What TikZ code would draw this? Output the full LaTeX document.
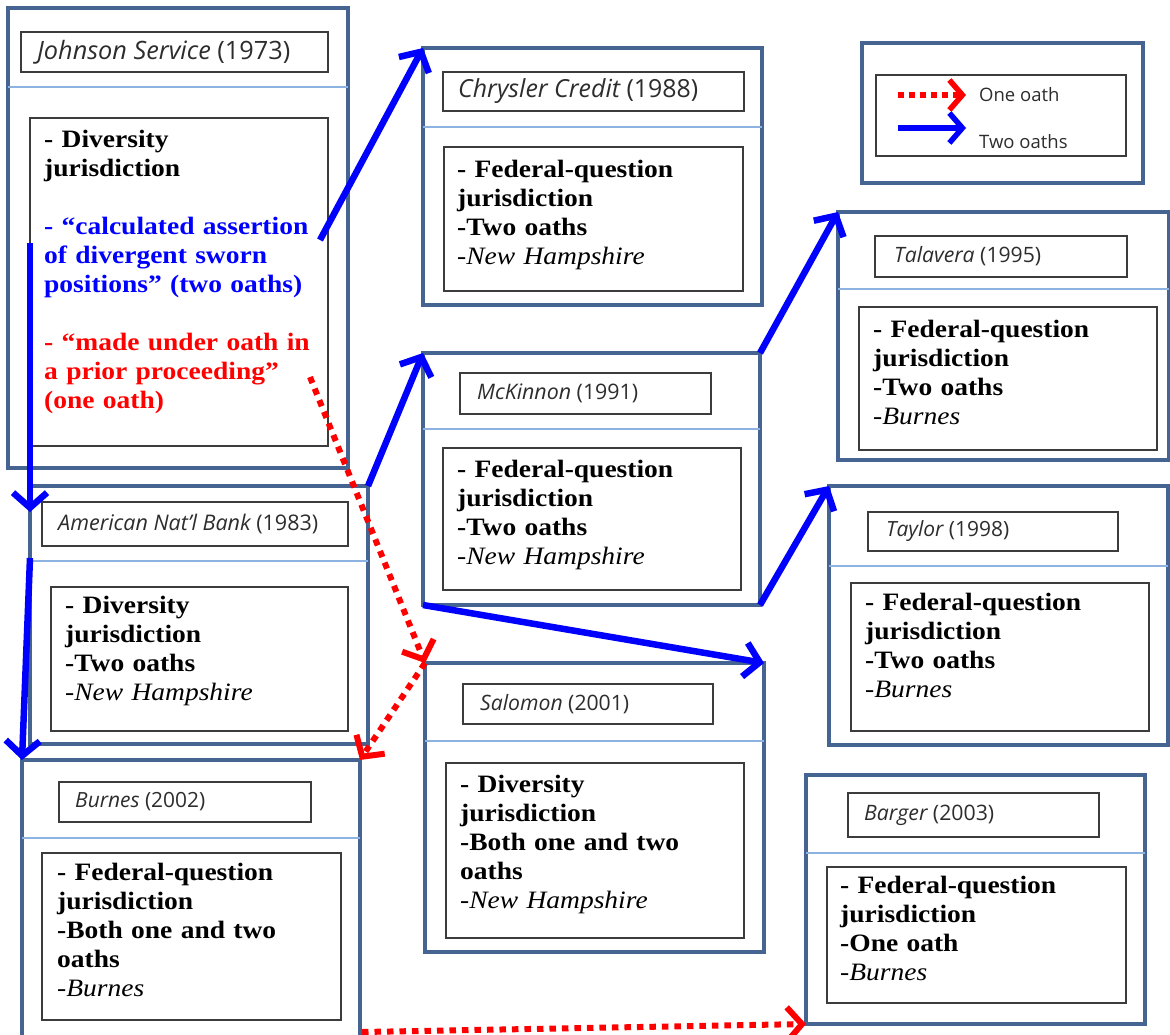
\documentclass[tikz,border=0pt]{standalone}
\usepackage{fontspec}
\usepackage{graphicx}
\usetikzlibrary{arrows.meta}
\newfontfamily\bodyfont{Liberation Serif}[FakeStretch=1.1]
\newfontfamily\titlefont{Open Sans}
\definecolor{frameblue}{RGB}{70,100,145}
\definecolor{seplight}{RGB}{141,179,226}
\definecolor{innergray}{RGB}{60,60,60}
\definecolor{titlegray}{RGB}{45,45,45}
\definecolor{arrowblue}{RGB}{0,0,255}
\definecolor{arrowred}{RGB}{255,0,0}
\newcommand\casetitle[3]{\resizebox{#1pt}{!}{\titlefont\color{titlegray}\itshape #2\upshape{} #3}}
\newcommand\plainit[1]{{\mdseries -\itshape #1}}
\begin{document}
\begin{tikzpicture}[x=1pt,y=-1pt,
  outerbox/.style={draw=frameblue, line width=3.8pt, rectangle, inner sep=0pt, outer sep=0pt, anchor=north west},
  titlebox/.style={draw=innergray, line width=1.5pt, rectangle, inner sep=0pt, outer sep=0pt, anchor=north west},
  contentbox/.style={draw=innergray, line width=1.5pt, rectangle, inner sep=0pt, outer sep=0pt, anchor=north west},
  sepline/.style={draw=seplight, line width=1.4pt},
  titletext/.style={anchor=west, inner sep=0pt},
  bodytext/.style={anchor=base west, inner sep=0pt, text width=300pt, align=left, font=\bodyfont\bfseries\fontsize{25}{29}\selectfont},
  legendtext/.style={anchor=west, inner sep=0pt, font=\titlefont\fontsize{18.5}{21}\selectfont, text=titlegray},
  twooath/.style={draw=arrowblue, line width=6.5pt, -{Straight Barb[length=15pt,width=34pt]}},
  oneoath/.style={draw=arrowred, line width=6pt, dash pattern=on 6.5pt off 6pt, -{Straight Barb[length=15pt,width=34pt]}},
  legendblue/.style={draw=arrowblue, line width=5.5pt, -{Straight Barb[length=13pt,width=30pt]}},
  legendred/.style={draw=arrowred, line width=5.5pt, dash pattern=on 6pt off 5pt, -{Straight Barb[length=13pt,width=30pt]}}
]
\useasboundingbox[fill=white] (0,0) rectangle (1170,1034);

% ---------- Johnson Service ----------
\node[outerbox, minimum width=340pt, minimum height=460pt] (js) at (8,8) {};
\node[titlebox, minimum width=307pt, minimum height=40pt] (jst) at (21,32) {};
\draw[sepline] (8,87) -- (348,87);
\node[contentbox, minimum width=298pt, minimum height=328pt] (jsc) at (30,118) {};
\node[titletext] (jstt) at (37,52) {\casetitle{253}{Johnson Service}{(1973)}};
\node[bodytext] (jsb) at (44,147) {- Diversity\\ jurisdiction\\[29pt]
{\color{arrowblue}- “calculated assertion\\ of divergent sworn\\ positions” (two oaths)}\\[29pt]
{\color{arrowred}- “made under oath in\\ a prior proceeding”\\ (one oath)}};

% ---------- Chrysler Credit ----------
\node[outerbox, minimum width=339pt, minimum height=257pt] (chr) at (423,48) {};
\node[titlebox, minimum width=301pt, minimum height=39pt] (chrt) at (443,72) {};
\draw[sepline] (423,127) -- (762,127);
\node[contentbox, minimum width=299pt, minimum height=144pt] (chrc) at (444,147) {};
\node[titletext] (chrtt) at (458,91.5) {\casetitle{240}{Chrysler Credit}{(1988)}};
\node[bodytext] (chrb) at (457,177) {- Federal-question\\ jurisdiction\\ -Two oaths\\ \plainit{New Hampshire}};

% ---------- Legend ----------
\node[outerbox, minimum width=281pt, minimum height=140pt] (leg) at (862,43) {};
\node[contentbox, minimum width=250pt, minimum height=81pt] (legi) at (876,75) {};
\coordinate (lr1) at (898,95);
\coordinate (lr2) at (966,95);
\coordinate (lb1) at (898,128);
\coordinate (lb2) at (966,128);
\draw[legendred] (lr1) -- (lr2);
\draw[legendblue] (lb1) -- (lb2);
\node[legendtext] (lone) at (979,95) {One oath};
\node[legendtext] (ltwo) at (979,142) {Two oaths};

% ---------- Talavera ----------
\node[outerbox, minimum width=331pt, minimum height=248pt] (tal) at (838,212) {};
\node[titlebox, minimum width=252pt, minimum height=41pt] (talt) at (875,236) {};
\draw[sepline] (838,289) -- (1169,289);
\node[contentbox, minimum width=298pt, minimum height=143pt] (talc) at (859,307) {};
\node[titletext] (taltt) at (894,256.5) {\casetitle{147}{Talavera}{(1995)}};
\node[bodytext] (talb) at (873,337) {- Federal-question\\ jurisdiction\\ -Two oaths\\ \plainit{Burnes}};

% ---------- McKinnon ----------
\node[outerbox, minimum width=337pt, minimum height=252pt] (mck) at (423,353) {};
\node[titlebox, minimum width=251pt, minimum height=41pt] (mckt) at (460,373) {};
\draw[sepline] (423,429) -- (760,429);
\node[contentbox, minimum width=298pt, minimum height=142pt] (mckc) at (443,448) {};
\node[titletext] (mcktt) at (477,393.5) {\casetitle{161}{McKinnon}{(1991)}};
\node[bodytext] (mckb) at (457,477) {- Federal-question\\ jurisdiction\\ -Two oaths\\ \plainit{New Hampshire}};

% ---------- Taylor ----------
\node[outerbox, minimum width=339pt, minimum height=259pt] (tay) at (829,486) {};
\node[titlebox, minimum width=250pt, minimum height=39pt] (tayt) at (868,512) {};
\draw[sepline] (829,566) -- (1168,566);
\node[contentbox, minimum width=298pt, minimum height=148pt] (tayc) at (851,583) {};
\node[titletext] (taytt) at (886,531.5) {\casetitle{123}{Taylor}{(1998)}};
\node[bodytext] (tayb) at (865,610) {- Federal-question\\ jurisdiction\\ -Two oaths\\ \plainit{Burnes}};

% ---------- American Nat'l Bank ----------
\node[outerbox, minimum width=338pt, minimum height=258pt] (anb) at (30,486) {};
\node[titlebox, minimum width=306pt, minimum height=44pt] (anbt) at (42,502) {};
\draw[sepline] (30,561) -- (368,561);
\node[contentbox, minimum width=297pt, minimum height=144pt] (anbc) at (51,587) {};
\node[titletext] (anbtt) at (58,524) {\casetitle{260}{American Nat’l Bank}{(1983)}};
\node[bodytext] (anbb) at (65,613) {- Diversity\\ jurisdiction\\ -Two oaths\\ \plainit{New Hampshire}};

% ---------- Salomon ----------
\node[outerbox, minimum width=339pt, minimum height=289pt] (sal) at (425,663) {};
\node[titlebox, minimum width=250pt, minimum height=40pt] (salt) at (463,684) {};
\draw[sepline] (425,741) -- (764,741);
\node[contentbox, minimum width=298pt, minimum height=175pt] (salc) at (446,763) {};
\node[titletext] (saltt) at (480,704) {\casetitle{149}{Salomon}{(2001)}};
\node[bodytext] (salb) at (460,792) {- Diversity\\ jurisdiction\\ -Both one and two\\ oaths\\ \plainit{New Hampshire}};

% ---------- Burnes ----------
\node[outerbox, minimum width=338pt, minimum height=290pt] (bur) at (22,760) {};
\node[titlebox, minimum width=252pt, minimum height=40pt] (burt) at (59,782) {};
\draw[sepline] (22,838) -- (360,838);
\node[contentbox, minimum width=299pt, minimum height=167pt] (burc) at (42,853) {};
\node[titletext] (burtt) at (75,802) {\casetitle{130}{Burnes}{(2002)}};
\node[bodytext] (burb) at (57,880) {- Federal-question\\ jurisdiction\\ -Both one and two\\ oaths\\ \plainit{Burnes}};

% ---------- Barger ----------
\node[outerbox, minimum width=339pt, minimum height=249pt] (bar) at (806,775) {};
\node[titlebox, minimum width=251pt, minimum height=44pt] (bart) at (848,793) {};
\draw[sepline] (806,853) -- (1145,853);
\node[contentbox, minimum width=299pt, minimum height=136pt] (barc) at (827,867) {};
\node[titletext] (bartt) at (864,815) {\casetitle{130}{Barger}{(2003)}};
\node[bodytext] (barb) at (840,893) {- Federal-question\\ jurisdiction\\ -One oath\\ \plainit{Burnes}};

% ---------- connectors ----------
\coordinate (jsout) at (320,240);
\coordinate (jsdown) at (30,243);
\coordinate (anbin) at (30,512);
\coordinate (anbdown) at (30,558);
\coordinate (jsred) at (310,377);
\coordinate (burred) at (362,1032);

\draw[twooath] (jsout) -- (chr.north west);
\draw[twooath] (jsdown) -- (anbin);
\draw[twooath] (anbdown) -- (bur.north west);
\draw[twooath] (anb.north east) -- (mck.north west);
\draw[twooath] (mck.north east) -- (tal.north west);
\draw[twooath] (mck.south east) -- (tay.north west);
\draw[twooath] (mck.south west) -- (sal.north east);

\draw[oneoath] (jsred) -- (sal.north west);
\draw[oneoath] (sal.north west) -- (bur.north east);
\draw[oneoath] (burred) -- (bar.south west);
\end{tikzpicture}
\end{document}
